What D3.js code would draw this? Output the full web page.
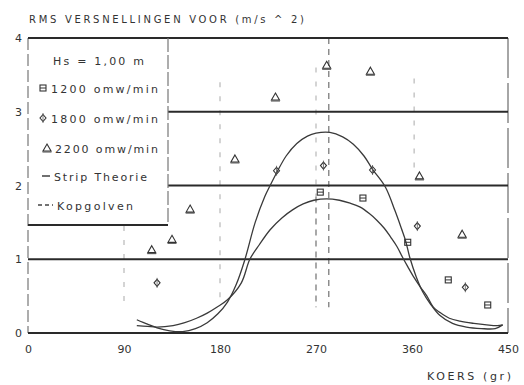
<!DOCTYPE html>
<html><head><meta charset="utf-8">
<script src="https://cdn.jsdelivr.net/npm/d3@7"></script>
<style>
body{margin:0;background:#fff}
svg{display:block}
text{font-family:"DejaVu Sans","Liberation Sans",Arial,sans-serif;fill:#333}
</style>
</head><body><svg width="524" height="385"></svg>
<script>
// ---- data ----
const xTicks = [0, 90, 180, 270, 360, 450];
const yTicks = [0, 1, 2, 3, 4];
const gridFull = [0, 1, 4];
const gridPartial = [2, 3];

const koers1200 = [274, 314, 356, 394, 431];
const rms1200   = [1.91, 1.83, 1.23, 0.72, 0.38];
const koers1800 = [121, 233, 277, 323, 365, 410];
const rms1800   = [0.68, 2.20, 2.27, 2.21, 1.45, 0.62];
const koers2200 = [116, 135, 152, 194, 232, 280, 321, 367, 407];
const rms2200   = [1.13, 1.27, 1.68, 2.36, 3.20, 3.63, 3.55, 2.13, 1.34];

const stripAx = [102,112,121,133,145,157,168,178,187,195,203,213,222,227,233,242,252,262,270,283,295,305,315,323,335,344,350,354,358,364,370,377,386,398,411,425,438,445];
const stripAy = [0.18,0.12,0.07,0.03,0.02,0.06,0.14,0.26,0.42,0.65,0.98,1.50,1.85,2.00,2.17,2.40,2.57,2.67,2.71,2.72,2.66,2.56,2.40,2.22,1.98,1.66,1.42,1.25,1.02,0.76,0.56,0.40,0.24,0.13,0.08,0.06,0.06,0.11];
const stripBx = [102,112,121,136,147,158,168,177,187,200,208,217,227,238,248,258,268,280,292,302,311,320,327,334,340,346,351,356,362,368,374,380,386,395,405,418,430,440,445];
const stripBy = [0.10,0.09,0.08,0.10,0.14,0.20,0.27,0.35,0.45,0.68,1.00,1.20,1.40,1.56,1.67,1.75,1.80,1.82,1.80,1.76,1.71,1.62,1.53,1.42,1.30,1.17,1.03,0.90,0.75,0.62,0.50,0.35,0.28,0.20,0.16,0.13,0.11,0.10,0.11];

// Kopgolven (head wave) dashed markers: heading, from, to
const kopKoers = [90, 180, 270, 270, 282, 362];
const kopFrom  = [1.45, 3.40, 3.60, 1.85, 4.00, 3.45];
const kopTo    = [0.40, 0.40, 1.85, 0.35, 0.35, 2.20];
const kopDark  = [false, false, false, true, true, false];

const legendLabels = ["Hs = 1,00 m", "1200 omw/min", "1800 omw/min", "2200 omw/min", "Strip Theorie", "Kopgolven"];

// ---- layout ----
const svg = d3.select("svg");
const x = d3.scaleLinear().domain([0, 450]).range([28, 508]);
const y = d3.scaleLinear().domain([0, 4]).range([333, 38]);
const legendRight = 168, legendBottom = 225;
const ink = "#2a2a2a";

// title
svg.append("text").attr("x", 29).attr("y", 23).attr("font-size", 10)
  .attr("textLength", 275).attr("lengthAdjust", "spacing")
  .text("RMS VERSNELLINGEN VOOR (m/s ^ 2)");

// frame verticals
svg.append("line").attr("x1", x(0)).attr("x2", x(0)).attr("y1", y(4)).attr("y2", y(0))
  .attr("stroke", "#777").attr("stroke-width", 1.2).attr("stroke-dasharray", "12,4");
svg.append("line").attr("x1", x(450)).attr("x2", x(450)).attr("y1", y(4)).attr("y2", y(0))
  .attr("stroke", "#777").attr("stroke-width", 1.3).attr("stroke-dasharray", "40,5");

// kopgolven dashed verticals
kopKoers.forEach((k, i) => {
  svg.append("line").attr("x1", x(k)).attr("x2", x(k)).attr("y1", y(kopFrom[i])).attr("y2", y(kopTo[i]))
    .attr("stroke", kopDark[i] ? "#707070" : "#b8b8b8").attr("stroke-width", 1.2)
    .attr("stroke-dasharray", kopDark[i] ? "6,5" : "5,9");
});

// horizontal grid
gridFull.forEach(v => {
  svg.append("line").attr("x1", x(0)).attr("x2", x(450)).attr("y1", y(v)).attr("y2", y(v))
    .attr("stroke", ink).attr("stroke-width", 2);
});
gridPartial.forEach(v => {
  svg.append("line").attr("x1", legendRight).attr("x2", x(450)).attr("y1", y(v)).attr("y2", y(v))
    .attr("stroke", ink).attr("stroke-width", 2);
});

// legend box
svg.append("line").attr("x1", x(0)).attr("x2", legendRight).attr("y1", legendBottom).attr("y2", legendBottom)
  .attr("stroke", ink).attr("stroke-width", 2);
svg.append("line").attr("x1", legendRight).attr("x2", legendRight).attr("y1", y(4)).attr("y2", legendBottom)
  .attr("stroke", "#777").attr("stroke-width", 1.2).attr("stroke-dasharray", "14,3");

// axes
const xAxis = svg.append("g").attr("transform", `translate(0,${y(0)})`)
  .call(d3.axisBottom(x).tickValues(xTicks).tickSize(0).tickPadding(12).tickFormat(d3.format("d")));
xAxis.select(".domain").remove();
xAxis.selectAll("text").attr("font-size", 11).attr("fill", "#333").attr("font-family", "DejaVu Sans, Liberation Sans, sans-serif");

const yAxis = svg.append("g").attr("transform", `translate(${x(0)},0)`)
  .call(d3.axisLeft(y).tickValues(yTicks).tickSize(0).tickPadding(6).tickFormat(d3.format("d")));
yAxis.select(".domain").remove();
yAxis.selectAll("text").attr("font-size", 11).attr("fill", "#333").attr("font-family", "DejaVu Sans, Liberation Sans, sans-serif");

svg.append("text").attr("x", 427).attr("y", 380).attr("font-size", 11)
  .attr("textLength", 84).attr("lengthAdjust", "spacing").text("KOERS (gr)");

// strip theory curves
const line = d3.line().x(d => x(d[0])).y(d => y(d[1])).curve(d3.curveCatmullRom.alpha(0.5));
svg.append("path").datum(d3.zip(stripAx, stripAy)).attr("d", line)
  .attr("fill", "none").attr("stroke", "#3a3a3a").attr("stroke-width", 1.3);
svg.append("path").datum(d3.zip(stripBx, stripBy)).attr("d", line)
  .attr("fill", "none").attr("stroke", "#3a3a3a").attr("stroke-width", 1.3);

// markers
function square(g, cx, cy) {
  g.append("rect").attr("x", cx - 3).attr("y", cy - 3).attr("width", 6).attr("height", 6)
    .attr("fill", "none").attr("stroke", "#333").attr("stroke-width", 1.1);
  g.append("line").attr("x1", cx - 3).attr("x2", cx + 3).attr("y1", cy).attr("y2", cy)
    .attr("stroke", "#333").attr("stroke-width", 1);
}
function diamond(g, cx, cy) {
  g.append("path").attr("d", `M${cx},${cy - 3.5}L${cx + 3},${cy}L${cx},${cy + 3.5}L${cx - 3},${cy}Z`)
    .attr("fill", "none").attr("stroke", "#333").attr("stroke-width", 1.1);
  g.append("line").attr("x1", cx).attr("x2", cx).attr("y1", cy - 5).attr("y2", cy + 5)
    .attr("stroke", "#555").attr("stroke-width", 0.8);
}
function triangle(g, cx, cy) {
  g.append("path").attr("d", `M${cx},${cy - 4}L${cx + 4},${cy + 3}L${cx - 4},${cy + 3}Z`)
    .attr("fill", "none").attr("stroke", "#333").attr("stroke-width", 1.1);
  g.append("line").attr("x1", cx - 4.5).attr("x2", cx + 4.5).attr("y1", cy + 4).attr("y2", cy + 4)
    .attr("stroke", "#333").attr("stroke-width", 0.9);
}
const gm = svg.append("g");
koers1200.forEach((k, i) => square(gm, x(k), y(rms1200[i])));
koers1800.forEach((k, i) => diamond(gm, x(k), y(rms1800[i])));
koers2200.forEach((k, i) => triangle(gm, x(k), y(rms2200[i])));

// legend
const lg = svg.append("g");
const legY = [65, 93, 123, 153, 181, 210];
const legX = [53, 51, 51, 55, 54, 57];
const legW = [91, 107, 107, 103, 93, 76];
legendLabels.forEach((t, i) => {
  lg.append("text").attr("x", legX[i]).attr("y", legY[i]).attr("font-size", 11)
    .attr("textLength", legW[i]).attr("lengthAdjust", "spacing").text(t);
});
square(lg, 43, 88);
diamond(lg, 43, 118);
triangle(lg, 47, 148);
lg.append("line").attr("x1", 42).attr("x2", 50).attr("y1", 176).attr("y2", 176).attr("stroke", "#333").attr("stroke-width", 1.4);
lg.append("line").attr("x1", 38).attr("x2", 53).attr("y1", 205).attr("y2", 205).attr("stroke", "#444")
  .attr("stroke-width", 1.4).attr("stroke-dasharray", "4,3");
</script>
</body></html>
